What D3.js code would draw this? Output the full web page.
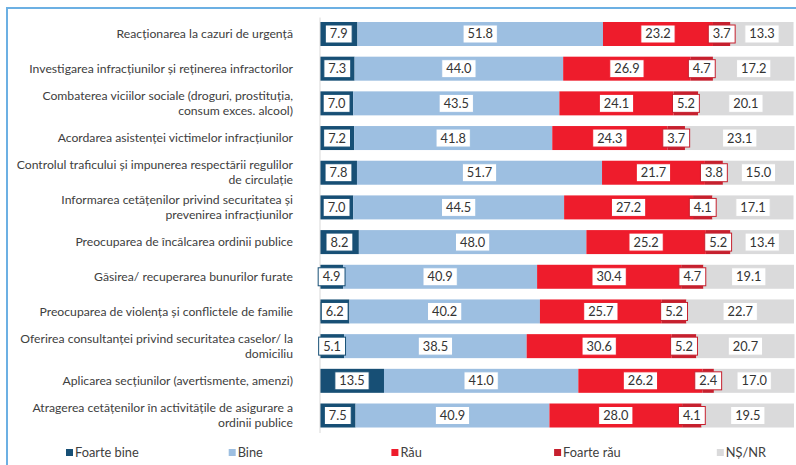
<!DOCTYPE html>
<meta charset="utf-8" />
<script src="https://d3js.org/d3.v7.min.js"></script>
<style>
  body { margin: 0; background: #fff; }
</style>
<div id="my_dataviz"></div>
<script>
  // categories (line breaks as in the original)
  var categories = [
    'Reacționarea la cazuri de urgență',
    'Investigarea infracțiunilor și reținerea infractorilor',
    'Combaterea viciilor sociale (droguri, prostituția,\nconsum exces. alcool)',
    'Acordarea asistenței victimelor infracțiunilor',
    'Controlul traficului și impunerea respectării regulilor\nde circulație',
    'Informarea cetățenilor privind securitatea și\nprevenirea infracțiunilor',
    'Preocuparea de încălcarea ordinii publice',
    'Găsirea/ recuperarea bunurilor furate',
    'Preocuparea de violența și conflictele de familie',
    'Oferirea consultanței privind securitatea caselor/ la\ndomiciliu',
    'Aplicarea secțiunilor (avertismente, amenzi)',
    'Atragerea cetățenilor în activitățile de asigurare a\nordinii publice'
  ];

  var seriesNames = ['Foarte bine', 'Bine', 'Rău', 'Foarte rău', 'NȘ/NR'];

  var foarteBine = [7.9, 7.3, 7.0, 7.2, 7.8, 7.0, 8.2, 4.9, 6.2, 5.1, 13.5, 7.5];
  var bine = [51.8, 44.0, 43.5, 41.8, 51.7, 44.5, 48.0, 40.9, 40.2, 38.5, 41.0, 40.9];
  var rau = [23.2, 26.9, 24.1, 24.3, 21.7, 27.2, 25.2, 30.4, 25.7, 30.6, 26.2, 28.0];
  var foarteRau = [3.7, 4.7, 5.2, 3.7, 3.8, 4.1, 5.2, 4.7, 5.2, 5.2, 2.4, 4.1];
  var nsnr = [13.3, 17.2, 20.1, 23.1, 15.0, 17.1, 13.4, 19.1, 22.7, 20.7, 17.0, 19.5];

  var colors = ['#174f75', '#9dbfe1', '#ee1c2c', '#c6202e', '#dadadb'];

  var width = 796, height = 465;
  var font = 'Lato, "Open Sans", sans-serif';

  // table for d3.stack
  var table = categories.map(function (c, i) {
    return {
      cat: c,
      'Foarte bine': foarteBine[i],
      'Bine': bine[i],
      'Rău': rau[i],
      'Foarte rău': foarteRau[i],
      'NȘ/NR': nsnr[i]
    };
  });

  var svg = d3.select('#my_dataviz')
    .append('svg')
    .attr('width', width)
    .attr('height', height);

  // light blue frame
  svg.append('path')
    .attr('d', 'M7,' + (height + 5) + 'V8H' + (width + 5))
    .attr('fill', 'none')
    .attr('stroke', '#6cb0e3')
    .attr('stroke-width', 2);

  var x = d3.scaleLinear().domain([0, 100]).range([320, 794]);
  var y = d3.scaleBand().domain(categories).range([17, 432.5])
    .paddingInner(0.308).paddingOuter(0.144);

  var stacked = d3.stack().keys(seriesNames)(table);

  // bars
  var layers = svg.append('g').selectAll('g')
    .data(stacked)
    .enter().append('g')
    .attr('fill', function (d, i) { return colors[i]; });

  layers.selectAll('rect')
    .data(function (d) { return d; })
    .enter().append('rect')
    .attr('x', function (d) { return x(d[0]); })
    .attr('y', function (d) { return y(d.data.cat); })
    .attr('width', function (d) { return x(d[1]) - x(d[0]); })
    .attr('height', y.bandwidth());

  // axis line
  svg.append('g')
    .attr('transform', 'translate(319.5,0)')
    .call(d3.axisLeft(y).tickSize(0).tickFormat(''))
    .call(function (g) { g.select('.domain').attr('stroke', '#d9d9d9'); });

  // category labels
  svg.append('g').selectAll('text')
    .data(categories)
    .enter().append('text')
    .attr('x', 293)
    .attr('text-anchor', 'end')
    .style('font-family', font)
    .style('font-size', '12.2px')
    .attr('fill', '#404040')
    .each(function (c) {
      var lines = c.split('\n');
      var cy = y(c) + y.bandwidth() / 2;
      var t = d3.select(this);
      lines.forEach(function (l, k) {
        t.append('tspan')
          .attr('x', 293)
          .attr('y', cy + (k - (lines.length - 1) / 2) * 15)
          .attr('dy', '0.35em')
          .text(l);
      });
    });

  // value labels in white boxes
  stacked.forEach(function (s, si) {
    var g = svg.append('g');
    s.forEach(function (d) {
      var cx = (x(d[0]) + x(d[1])) / 2;
      var cy = y(d.data.cat) + y.bandwidth() / 2;
      var lg = g.append('g');
      var box = lg.append('rect')
        .attr('fill', '#fff')
        .attr('stroke', colors[si])
        .attr('stroke-width', 1);
      var txt = lg.append('text')
        .attr('x', cx)
        .attr('y', cy)
        .attr('dy', '0.35em')
        .attr('text-anchor', 'middle')
        .style('font-family', font)
        .style('font-size', '12.8px')
        .attr('fill', '#333')
        .text(d3.format('.1f')(d[1] - d[0] + 1e-9));
      var w = txt.node().getComputedTextLength() + 9;
      box.attr('x', cx - w / 2).attr('y', cy - 9).attr('width', w).attr('height', 18);
    });
  });

  // legend
  var legend = svg.append('g').selectAll('g')
    .data(seriesNames)
    .enter().append('g')
    .attr('transform', function (d, i) { return 'translate(' + (66 + i * 162.7) + ',449)'; });

  legend.append('rect')
    .attr('width', 7)
    .attr('height', 7)
    .attr('fill', function (d, i) { return colors[i]; });

  legend.append('text')
    .attr('x', 9)
    .attr('y', 4)
    .attr('dy', '0.35em')
    .style('font-family', font)
    .style('font-size', '12.8px')
    .attr('fill', '#404040')
    .text(function (d) { return d; });
</script>
